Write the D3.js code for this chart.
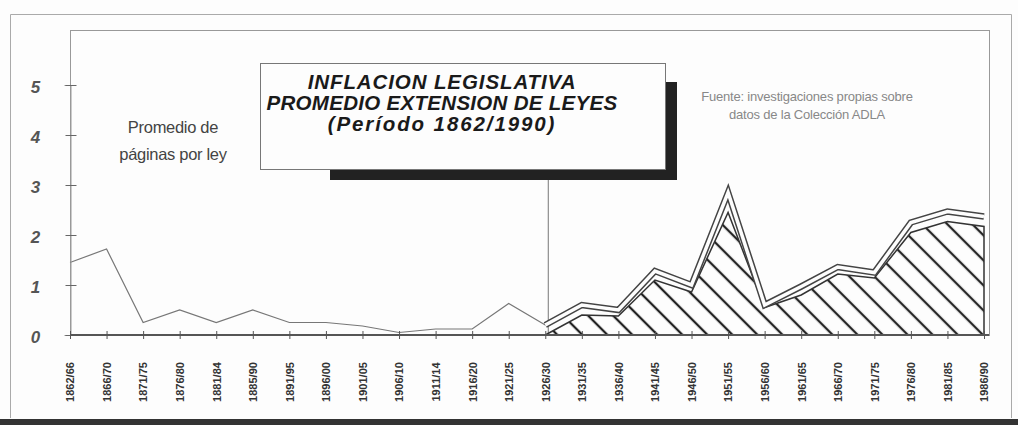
<!DOCTYPE html>
<html>
<head>
<meta charset="utf-8">
<script src="https://cdn.jsdelivr.net/npm/d3@7"></script>
<style>
    body { margin: 0; background: #fdfdfd; }
    svg { display: block; }
</style>
</head>
<body>
<div id="chart"></div>
<script>
// periods on the x axis
var periods = ["1862/66", "1866/70", "1871/75", "1876/80", "1881/84", "1885/90",
    "1891/95", "1896/00", "1901/05", "1906/10", "1911/14", "1916/20", "1921/25",
    "1926/30", "1931/35", "1936/40", "1941/45", "1946/50", "1951/55", "1956/60",
    "1961/65", "1966/70", "1971/75", "1976/80", "1981/85", "1986/90"];

// average pages per law (line)
var pagesPerLaw = [1.45, 1.72, 0.25, 0.5, 0.25, 0.5, 0.25, 0.25, 0.18, 0.05,
    0.12, 0.12, 0.63, 0.2, 0.6, 0.5, 1.28, 1.0, 2.85, 0.6, 0.97, 1.36, 1.25,
    2.25, 2.47, 2.37];

// hatched area, from 1926/30 on
var shadedFrom = 13;
var shadedValues = [0, 0.4, 0.38, 1.1, 0.86, 2.45, 0.55, 0.8, 1.22, 1.14,
    2.05, 2.27, 2.17];

var yTicks = [0, 1, 2, 3, 4, 5];

var titleLines = ["INFLACION LEGISLATIVA", "PROMEDIO EXTENSION DE LEYES",
    "(Período 1862/1990)"];
var noteLines = ["Promedio de", "páginas por ley"];
var sourceLines = ["Fuente: investigaciones propias sobre",
    "datos de la Colección ADLA"];

function drawChart() {
    "use strict";
    var width = 1018;
    var height = 425;
    var plot = {left: 70, top: 30, right: 989, bottom: 335};

    var svg = d3.select("#chart")
        .append("svg")
        .attr("width", width)
        .attr("height", height);

    var x = d3.scalePoint().domain(periods).range([70, 984]);
    var y = d3.scaleLinear().domain([0, 5]).range([plot.bottom, 85]);

    // hatch pattern
    var pattern = svg.append("defs")
        .append("pattern")
        .attr("id", "hatch")
        .attr("patternUnits", "userSpaceOnUse")
        .attr("width", 10)
        .attr("height", 17.7)
        .attr("patternTransform", "rotate(45)");
    pattern.append("rect")
        .attr("width", 10).attr("height", 17.7).attr("fill", "#fdfdfd");
    pattern.append("line")
        .attr("x1", 0).attr("x2", 10).attr("y1", 2).attr("y2", 2)
        .attr("stroke", "#222").attr("stroke-width", 2.3);

    // outer frame
    svg.append("path")
        .attr("d", "M10.5,418 V14.5 H1011.5 V418")
        .attr("fill", "none")
        .attr("stroke", "#aaa");
    svg.append("rect")
        .attr("x", 0).attr("y", 419).attr("width", width).attr("height", 6)
        .attr("fill", "#333");

    // plot frame
    svg.append("rect")
        .attr("x", plot.left + 0.5).attr("y", plot.top + 0.5)
        .attr("width", plot.right - plot.left)
        .attr("height", plot.bottom - plot.top)
        .attr("fill", "none")
        .attr("stroke", "#999");

    // vertical marker at 1926/30
    svg.append("line")
        .attr("x1", x(periods[shadedFrom]) + 3).attr("x2", x(periods[shadedFrom]) + 3)
        .attr("y1", 168).attr("y2", plot.bottom)
        .attr("stroke", "#777");

    // hatched area
    var shaded = shadedValues.map(function(v, i) {
        return {p: periods[shadedFrom + i], v: v};
    });
    var area = d3.area()
        .x(function(d) { return x(d.p); })
        .y0(y(0))
        .y1(function(d) { return y(d.v); });
    svg.append("path")
        .attr("d", area(shaded))
        .attr("fill", "url(#hatch)")
        .attr("stroke", "#333")
        .attr("stroke-width", 1.5);

    var line = d3.line()
        .x(function(d) { return x(d.p); })
        .y(function(d) { return y(d.v); });
    var series = pagesPerLaw.map(function(v, i) {
        return {p: periods[i], v: v};
    });

    // thin line up to 1926/30
    svg.append("path")
        .attr("d", line(series.slice(0, shadedFrom + 1)))
        .attr("fill", "none")
        .attr("stroke", "#777")
        .attr("stroke-width", 1.2);

    // double line afterwards
    var later = series.slice(shadedFrom);
    svg.append("path")
        .attr("d", line(later))
        .attr("fill", "none")
        .attr("stroke", "#444")
        .attr("stroke-width", 6.5)
        .attr("stroke-linejoin", "miter");
    svg.append("path")
        .attr("d", line(later))
        .attr("fill", "none")
        .attr("stroke", "#fdfdfd")
        .attr("stroke-width", 3.5)
        .attr("stroke-linejoin", "miter");

    // y axis
    var yAxis = svg.append("g")
        .attr("transform", "translate(" + (plot.left + 0.5) + ",0)")
        .call(d3.axisLeft(y).tickValues(yTicks).tickSize(6).tickPadding(22)
            .tickFormat(d3.format("d")));
    yAxis.select(".domain").attr("stroke", "#999");
    yAxis.selectAll(".tick line")
        .attr("x1", -5).attr("x2", 6).attr("stroke", "#666");
    yAxis.selectAll(".tick text")
        .attr("text-anchor", "middle")
        .attr("x", -35)
        .attr("dy", "0.45em")
        .style("font-family", "'Liberation Sans', Arial, sans-serif")
        .style("font-size", "17px")
        .style("font-weight", "bold")
        .style("font-style", "italic")
        .attr("fill", "#555");

    // x axis
    var xAxis = svg.append("g")
        .attr("transform", "translate(0," + plot.bottom + ")")
        .call(d3.axisBottom(x).tickSize(4).tickSizeOuter(0));
    xAxis.select(".domain").attr("stroke", "#555").attr("stroke-width", 2)
        .attr("d", "M" + plot.left + ",0H" + plot.right);
    xAxis.selectAll(".tick line")
        .attr("y1", -4).attr("y2", 4).attr("stroke", "#555");
    xAxis.selectAll(".tick text")
        .attr("transform", "translate(0,47) rotate(-90)")
        .attr("x", 0).attr("y", 0).attr("dy", "0.35em")
        .attr("text-anchor", "middle")
        .style("font-family", "'Liberation Sans Narrow', 'Liberation Sans', Arial, sans-serif")
        .style("font-size", "11px")
        .style("font-weight", "bold")
        .attr("fill", "#333");

    // side note
    svg.append("g").selectAll("text")
        .data(noteLines)
        .enter()
        .append("text")
        .attr("x", 173)
        .attr("y", function(d, i) { return 133 + i * 27; })
        .attr("text-anchor", "middle")
        .style("font-family", "'Liberation Sans', Arial, sans-serif")
        .style("font-size", "16.5px")
        .style("letter-spacing", "-0.3px")
        .attr("fill", "#444")
        .text(function(d) { return d; });

    // source note
    svg.append("g").selectAll("text")
        .data(sourceLines)
        .enter()
        .append("text")
        .attr("x", 807)
        .attr("y", function(d, i) { return 101 + i * 18; })
        .attr("text-anchor", "middle")
        .style("font-family", "'Liberation Sans', Arial, sans-serif")
        .style("font-size", "13px")
        .style("letter-spacing", "-0.2px")
        .attr("fill", "#888")
        .text(function(d) { return d; });

    // title box with shadow
    svg.append("rect")
        .attr("x", 330).attr("y", 82).attr("width", 347).attr("height", 98)
        .attr("fill", "#222");
    svg.append("rect")
        .attr("x", 260.5).attr("y", 63.5).attr("width", 405).attr("height", 106)
        .attr("fill", "#fdfdfd")
        .attr("stroke", "#777");
    var titleSpacing = [0.9, 0.3, 1.9];
    svg.append("g").selectAll("text")
        .data(titleLines)
        .enter()
        .append("text")
        .attr("x", 442)
        .attr("y", function(d, i) { return 89 + i * 21; })
        .attr("text-anchor", "middle")
        .style("font-family", "'Liberation Sans', Arial, sans-serif")
        .style("font-size", "20.5px")
        .style("font-weight", "bold")
        .style("font-style", "italic")
        .style("letter-spacing", function(d, i) { return titleSpacing[i] + "px"; })
        .attr("fill", "#1a1a1a")
        .text(function(d) { return d; });
}

drawChart();
</script>
</body>
</html>
